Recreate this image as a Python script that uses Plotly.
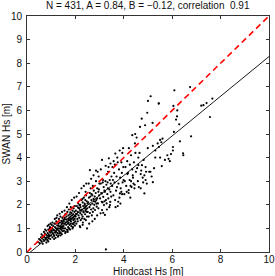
import plotly.graph_objects as go

# Hindcast Hs [m] (x) and SWAN Hs [m] (y)
hindcast_hs = [
    0.45,0.5,0.52,0.55,0.58,0.6,0.62,0.65,0.68,0.7,
    0.72,0.74,0.75,0.78,0.8,0.8,0.82,0.84,0.85,0.87,
    0.88,0.9,0.9,0.92,0.93,0.95,0.95,0.96,0.98,0.99,
    0.6,0.7,0.75,0.85,0.9,0.97,0.65,0.8,0.88,0.94,
    1.0,1.02,1.03,1.05,1.06,1.08,1.1,1.1,1.12,1.13,
    1.15,1.16,1.18,1.2,1.2,1.21,1.22,1.24,1.25,1.26,
    1.28,1.3,1.3,1.31,1.32,1.34,1.35,1.36,1.37,1.38,
    1.4,1.4,1.41,1.42,1.43,1.44,1.45,1.46,1.47,1.48,
    1.49,1.5,1.05,1.15,1.25,1.35,1.45,1.12,1.28,1.38,
    1.02,1.18,1.33,1.44,1.22,1.3,1.08,1.4,1.17,1.47,
    1.51,1.52,1.53,1.55,1.56,1.57,1.58,1.6,1.6,1.61,
    1.62,1.63,1.65,1.66,1.67,1.68,1.69,1.7,1.7,1.71,
    1.72,1.73,1.74,1.75,1.76,1.77,1.78,1.8,1.8,1.81,
    1.82,1.83,1.84,1.85,1.86,1.87,1.88,1.9,1.9,1.91,
    1.92,1.93,1.94,1.95,1.96,1.97,1.98,1.99,2.0,1.55,
    1.65,1.75,1.85,1.95,1.58,1.68,1.78,1.88,1.98,1.72,
    1.62,1.82,1.92,1.79,1.53,
    2.01,2.02,2.04,2.05,2.06,2.08,2.1,2.1,2.12,2.13,
    2.15,2.16,2.18,2.2,2.2,2.21,2.22,2.24,2.25,2.26,
    2.28,2.3,2.3,2.31,2.32,2.34,2.35,2.36,2.37,2.38,
    2.4,2.4,2.41,2.42,2.43,2.44,2.45,2.46,2.47,2.48,
    2.49,2.5,2.05,2.15,2.25,2.35,2.45,2.2,2.3,2.48,
    2.03,2.19,2.27,2.39,2.11,2.33,2.44,2.17,2.29,2.42,
    2.51,2.53,2.55,2.56,2.58,2.6,2.6,2.62,2.63,2.65,
    2.66,2.68,2.7,2.7,2.72,2.74,2.75,2.76,2.78,2.8,
    2.81,2.82,2.84,2.85,2.86,2.88,2.9,2.9,2.92,2.93,
    2.95,2.95,2.96,2.98,2.99,2.55,2.65,2.75,2.85,2.6,
    2.7,2.8,2.9,2.57,2.67,2.77,2.87,2.97,2.62,2.72,
    3.02,3.04,3.05,3.07,3.09,3.1,3.12,3.14,3.15,3.17,
    3.18,3.2,3.22,3.22,3.24,3.26,3.26,3.28,3.29,3.3,
    3.32,3.34,3.35,3.36,3.38,3.4,3.4,3.42,3.43,3.45,
    3.46,3.48,3.49,3.1,3.15,3.2,3.3,3.45,3.37,3.09,
    3.05,3.25,3.13,3.44,3.33,
    3.52,3.55,3.57,3.6,3.62,3.64,3.65,3.68,3.7,3.72,
    3.75,3.75,3.77,3.78,3.8,3.82,3.84,3.85,3.87,3.9,
    3.9,3.92,3.94,3.95,3.97,3.98,3.99,3.58,3.66,3.86,
    3.53,3.73,3.83,3.93,3.63,
    4.02,4.04,4.07,4.1,4.12,4.15,4.17,4.2,4.2,4.21,
    4.24,4.25,4.28,4.3,4.3,4.32,4.35,4.35,4.38,4.4,
    4.42,4.44,4.45,4.47,4.48,4.5,4.14,4.27,4.37,4.46,
    4.53,4.55,4.58,4.6,4.62,4.65,4.67,4.7,4.7,4.72,
    4.74,4.75,4.78,4.8,4.82,4.85,4.85,4.88,4.9,4.92,
    4.95,4.97,4.99,4.6,4.9,
    5.0,5.05,5.1,5.11,5.15,5.19,5.2,5.2,5.25,5.3,
    5.3,5.4,5.44,5.45,5.5,5.5,5.55,5.57,5.6,5.7,
    5.8,5.85,5.9,5.95,5.45,
    6.03,6.03,6.05,6.07,6.09,6.16,6.2,6.21,6.29,6.32,
    6.45,6.74,6.78,7.2,7.29,7.42,7.56,7.66,6.46,
]
swan_hs = [
    0.42,0.55,0.38,0.5,0.62,0.45,0.58,0.7,0.52,0.64,
    0.48,0.78,0.6,0.55,0.72,0.9,0.62,0.5,0.8,0.68,
    0.95,0.58,0.75,0.66,0.86,0.7,1.05,0.55,0.82,0.92,
    0.75,0.85,0.95,1.1,1.15,1.2,0.35,0.4,0.45,1.0,
    0.7,0.88,1.0,0.62,0.8,1.1,0.75,0.95,0.68,1.2,
    0.9,1.05,0.6,0.85,1.0,1.3,0.72,0.95,1.12,0.8,
    1.0,0.7,1.2,0.9,1.4,1.08,0.85,1.25,0.98,1.5,
    0.8,1.1,0.95,1.32,1.18,0.75,1.05,1.45,0.9,1.22,
    1.0,1.35,1.25,1.4,1.55,1.62,1.7,0.55,0.65,0.7,
    1.15,1.2,0.78,1.28,1.45,1.12,0.92,1.02,0.82,0.88,
    1.1,1.3,0.9,1.2,1.45,1.0,1.6,1.25,0.85,1.38,
    1.15,1.5,0.95,1.3,1.7,0.93,1.2,1.4,1.05,1.55,
    1.25,1.8,1.0,1.45,1.15,1.6,1.35,1.5,1.2,1.9,
    1.3,1.1,1.65,1.4,1.55,1.2,1.75,1.45,1.05,1.6,
    1.35,1.85,1.5,1.25,1.7,1.4,1.95,1.55,1.3,1.75,
    1.9,2.05,2.2,2.3,0.8,0.85,0.95,1.0,1.12,1.35,
    1.62,1.42,1.18,1.68,1.38,
    1.5,1.75,1.2,1.6,1.95,1.4,1.7,1.3,2.05,1.55,
    1.85,1.45,1.1,1.65,2.0,1.9,1.35,1.75,2.2,1.58,
    1.8,1.5,2.1,1.25,1.95,1.68,2.3,1.85,1.4,2.05,
    1.6,1.9,2.2,1.75,1.35,2.4,1.95,1.7,2.15,1.5,
    1.85,2.05,2.35,2.5,2.7,2.8,2.9,1.05,1.15,1.0,
    1.62,1.78,1.42,2.0,1.88,1.72,1.82,1.98,2.25,2.55,
    1.7,2.1,1.5,2.3,1.9,2.5,1.65,2.0,2.7,1.8,
    2.2,1.55,2.4,2.05,2.8,1.85,2.25,2.6,2.0,2.35,
    1.78,2.13,2.5,3.0,2.2,1.92,2.7,2.27,3.4,2.06,
    2.55,1.85,3.2,2.4,2.9,2.9,3.1,3.25,3.45,3.47,
    1.3,1.4,1.55,1.2,2.45,2.15,2.05,2.65,2.35,1.7,
    2.27,1.64,2.9,2.5,2.48,3.9,2.1,3.05,2.34,2.75,
    1.99,2.6,2.55,1.57,3.0,2.2,0.11,2.85,2.06,3.3,
    2.45,2.7,3.4,2.27,3.97,2.65,1.9,3.05,1.99,3.75,
    2.9,2.35,3.2,1.78,1.66,2.15,1.8,2.55,3.6,2.13,
    3.5,3.65,2.95,2.12,2.95,
    2.8,3.05,2.4,3.35,2.95,2.2,4.17,2.6,3.2,2.75,
    1.95,3.8,2.13,2.9,3.5,2.3,2.48,3.15,2.7,3.8,
    2.55,3.35,4.2,2.95,4.4,3.6,3.05,3.85,1.9,2.05,
    3.6,4.0,4.3,2.45,3.7,
    2.45,3.0,3.6,2.8,2.55,3.3,3.35,2.62,2.5,4.4,
    3.05,3.7,2.8,3.0,4.1,2.75,4.95,3.5,3.15,2.9,
    3.8,2.7,2.85,5.0,4.2,3.4,3.85,2.3,3.25,4.6,
    4.85,3.55,3.0,3.68,2.75,4.2,5.3,3.3,2.7,3.45,
    5.65,3.68,3.15,2.95,3.9,2.48,3.25,5.37,3.05,3.4,
    2.9,5.9,4.4,4.0,3.6,
    6.4,3.4,3.4,6.6,3.2,5.47,4.5,2.96,3.55,4.0,
    4.3,4.6,6.29,6.3,4.75,4.0,4.65,3.64,4.8,3.9,
    4.1,3.95,3.85,4.15,4.45,
    4.45,4.3,6.19,5.09,6.85,5.61,5.75,6.0,5.41,4.69,
    4.18,6.99,4.9,6.2,6.22,6.31,5.72,6.5,4.1,
]
assert len(hindcast_hs) == len(swan_hs)

n_obs = 431
fit_a = 0.84
fit_b = -0.12
correlation = 0.91
line_x = [0, 10]
x_ticks = [0, 2, 4, 6, 8, 10]
y_ticks = [0, 1, 2, 3, 4, 5, 6, 7, 8, 9, 10]

FONT = "Liberation Sans, Arial, Helvetica, sans-serif"
AX = "#333333"
TXT = "#111111"
FS = 10

fig = go.Figure()
fig.add_trace(go.Scatter(
    x=hindcast_hs, y=swan_hs, mode="markers",
    marker=dict(color="black", size=2.2, symbol="circle", line=dict(width=0)),
    showlegend=False, hoverinfo="skip", cliponaxis=True))
fig.add_trace(go.Scatter(
    x=line_x, y=[fit_a * v + fit_b for v in line_x], mode="lines",
    line=dict(color="black", width=0.9), showlegend=False, hoverinfo="skip"))
fig.add_trace(go.Scatter(
    x=line_x, y=line_x, mode="lines",
    line=dict(color="#ff0000", width=1.6, dash="6px,4px"), showlegend=False,
    hoverinfo="skip"))

axis_common = dict(
    showgrid=False, zeroline=False, showline=True, linecolor=AX, linewidth=1,
    mirror="ticks", ticks="inside", ticklen=3, tickcolor=AX, tickwidth=1,
    tickfont=dict(family=FONT, size=FS, color=TXT),
    range=[0, 10], fixedrange=True, automargin=False)

fig.update_layout(
    width=275, height=276,
    margin=dict(l=27, r=6, t=16, b=24, autoexpand=False),
    paper_bgcolor="white", plot_bgcolor="white",
    xaxis=dict(**axis_common, tickvals=x_ticks, ticklabelstandoff=-2),
    yaxis=dict(**axis_common, tickvals=y_ticks, ticklabelstandoff=2),
    font=dict(family=FONT, size=FS, color=TXT),
    annotations=[
        dict(text=f"N = {n_obs}, A = {fit_a:.2f}, B = \u2212{abs(fit_b):.2f}, correlation  {correlation:.2f}",
             xref="paper", yref="paper", x=0.5, y=1, yshift=3, xanchor="center", yanchor="bottom",
             showarrow=False, font=dict(family=FONT, size=FS, color=TXT)),
        dict(text="Hindcast Hs [m]", xref="paper", yref="paper", x=0.5, y=0, yshift=-12,
             xanchor="center", yanchor="top", showarrow=False,
             font=dict(family=FONT, size=FS, color=TXT)),
        dict(text="SWAN Hs [m]", xref="paper", yref="paper", x=0, xshift=-14, y=0.5,
             xanchor="right", yanchor="middle", textangle=-90, showarrow=False,
             font=dict(family=FONT, size=FS, color=TXT)),
    ],
)

fig.write_html(
    "out.html",
    config={"displayModeBar": False, "staticPlot": True},
    post_script="document.body.style.margin='0';document.body.style.padding='0';"
                "document.body.style.overflow='hidden';",
)
